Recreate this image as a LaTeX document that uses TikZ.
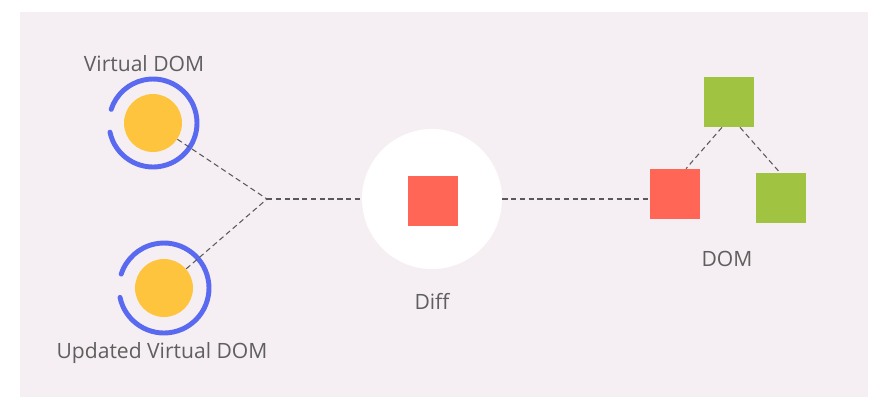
\documentclass[tikz,border=0pt]{standalone}
\usepackage{fontspec}
\setmainfont{Open Sans}
\usepackage{tikz}
\usetikzlibrary{shapes,arrows,positioning}

\definecolor{panelbg}{RGB}{245,239,243}
\definecolor{vdyellow}{RGB}{255,196,62}
\definecolor{ringblue}{RGB}{90,106,240}
\definecolor{diffred}{RGB}{255,102,86}
\definecolor{domgreen}{RGB}{160,196,66}
\definecolor{labelgray}{RGB}{95,95,95}

\begin{document}
\begin{tikzpicture}[x=0.02cm, y=-0.02cm]
			\tikzstyle{Ball}	= [circle, fill=vdyellow, minimum size=1.16cm, inner sep=0pt]
			\tikzstyle{Ring}	= [ringblue, line width=2.8pt, line cap=round]
			\tikzstyle{Box}		= [rectangle, minimum size=1cm, inner sep=0pt]
			\tikzstyle{Link}	= [dashed, dash pattern=on 3pt off 2pt, black!65, line width=0.6pt]
			\tikzstyle{Label}	= [text=labelgray, font=\fontsize{12}{14}\selectfont]
			
			\fill[white] (0,0) rectangle (881,407);
			\fill[panelbg] (20,12) rectangle (868,397);
			
			\node (vd) at (153, 123) [Ball] {};
			\node (uvd) at (164, 288) [Ball] {};
			\node (j) at (267, 199) [inner sep=0pt] {};
			\node (diff) at (432, 199) [circle, fill=white, minimum size=2.8cm, inner sep=0pt] {};
			\node (dsq) at (433, 201) [Box][fill=diffred] {};
			\node (dtop) at (729, 102) [Box][fill=domgreen] {};
			\node (dleft) at (675, 194) [Box][fill=diffred] {};
			\node (dright) at (781, 198) [Box][fill=domgreen] {};
			
			\draw [Ring] ([shift={(192:0.88cm)}]vd.center) arc[start angle=192, end angle=522, radius=0.88cm];
			\draw [Ring] ([shift={(192:0.9cm)}]uvd.center) arc[start angle=192, end angle=522, radius=0.9cm];
			
			\draw [-] (vd) to (j.center) [Link];
			\draw [-] (uvd) to (j.center) [Link];
			\draw [-] (j.center) to (diff.west) [Link];
			\draw [-] (diff.east) to (diff.east -| dleft.west) [Link];
			\draw [-] ([xshift=-0.14cm]dtop.south) to ([xshift=0.22cm]dleft.north) [Link];
			\draw [-] ([xshift=0.22cm]dtop.south) to ([xshift=-0.02cm]dright.north) [Link];
			
			\node (lvd) at (144, 64) [Label] {Virtual DOM};
			\node (luvd) at (162, 353) [Label] {Updated Virtual DOM};
			\node (ldiff) at (432, 301) [Label] {Diff};
			\node (ldom) at (727, 259) [Label] {DOM};
\end{tikzpicture}
\end{document}
